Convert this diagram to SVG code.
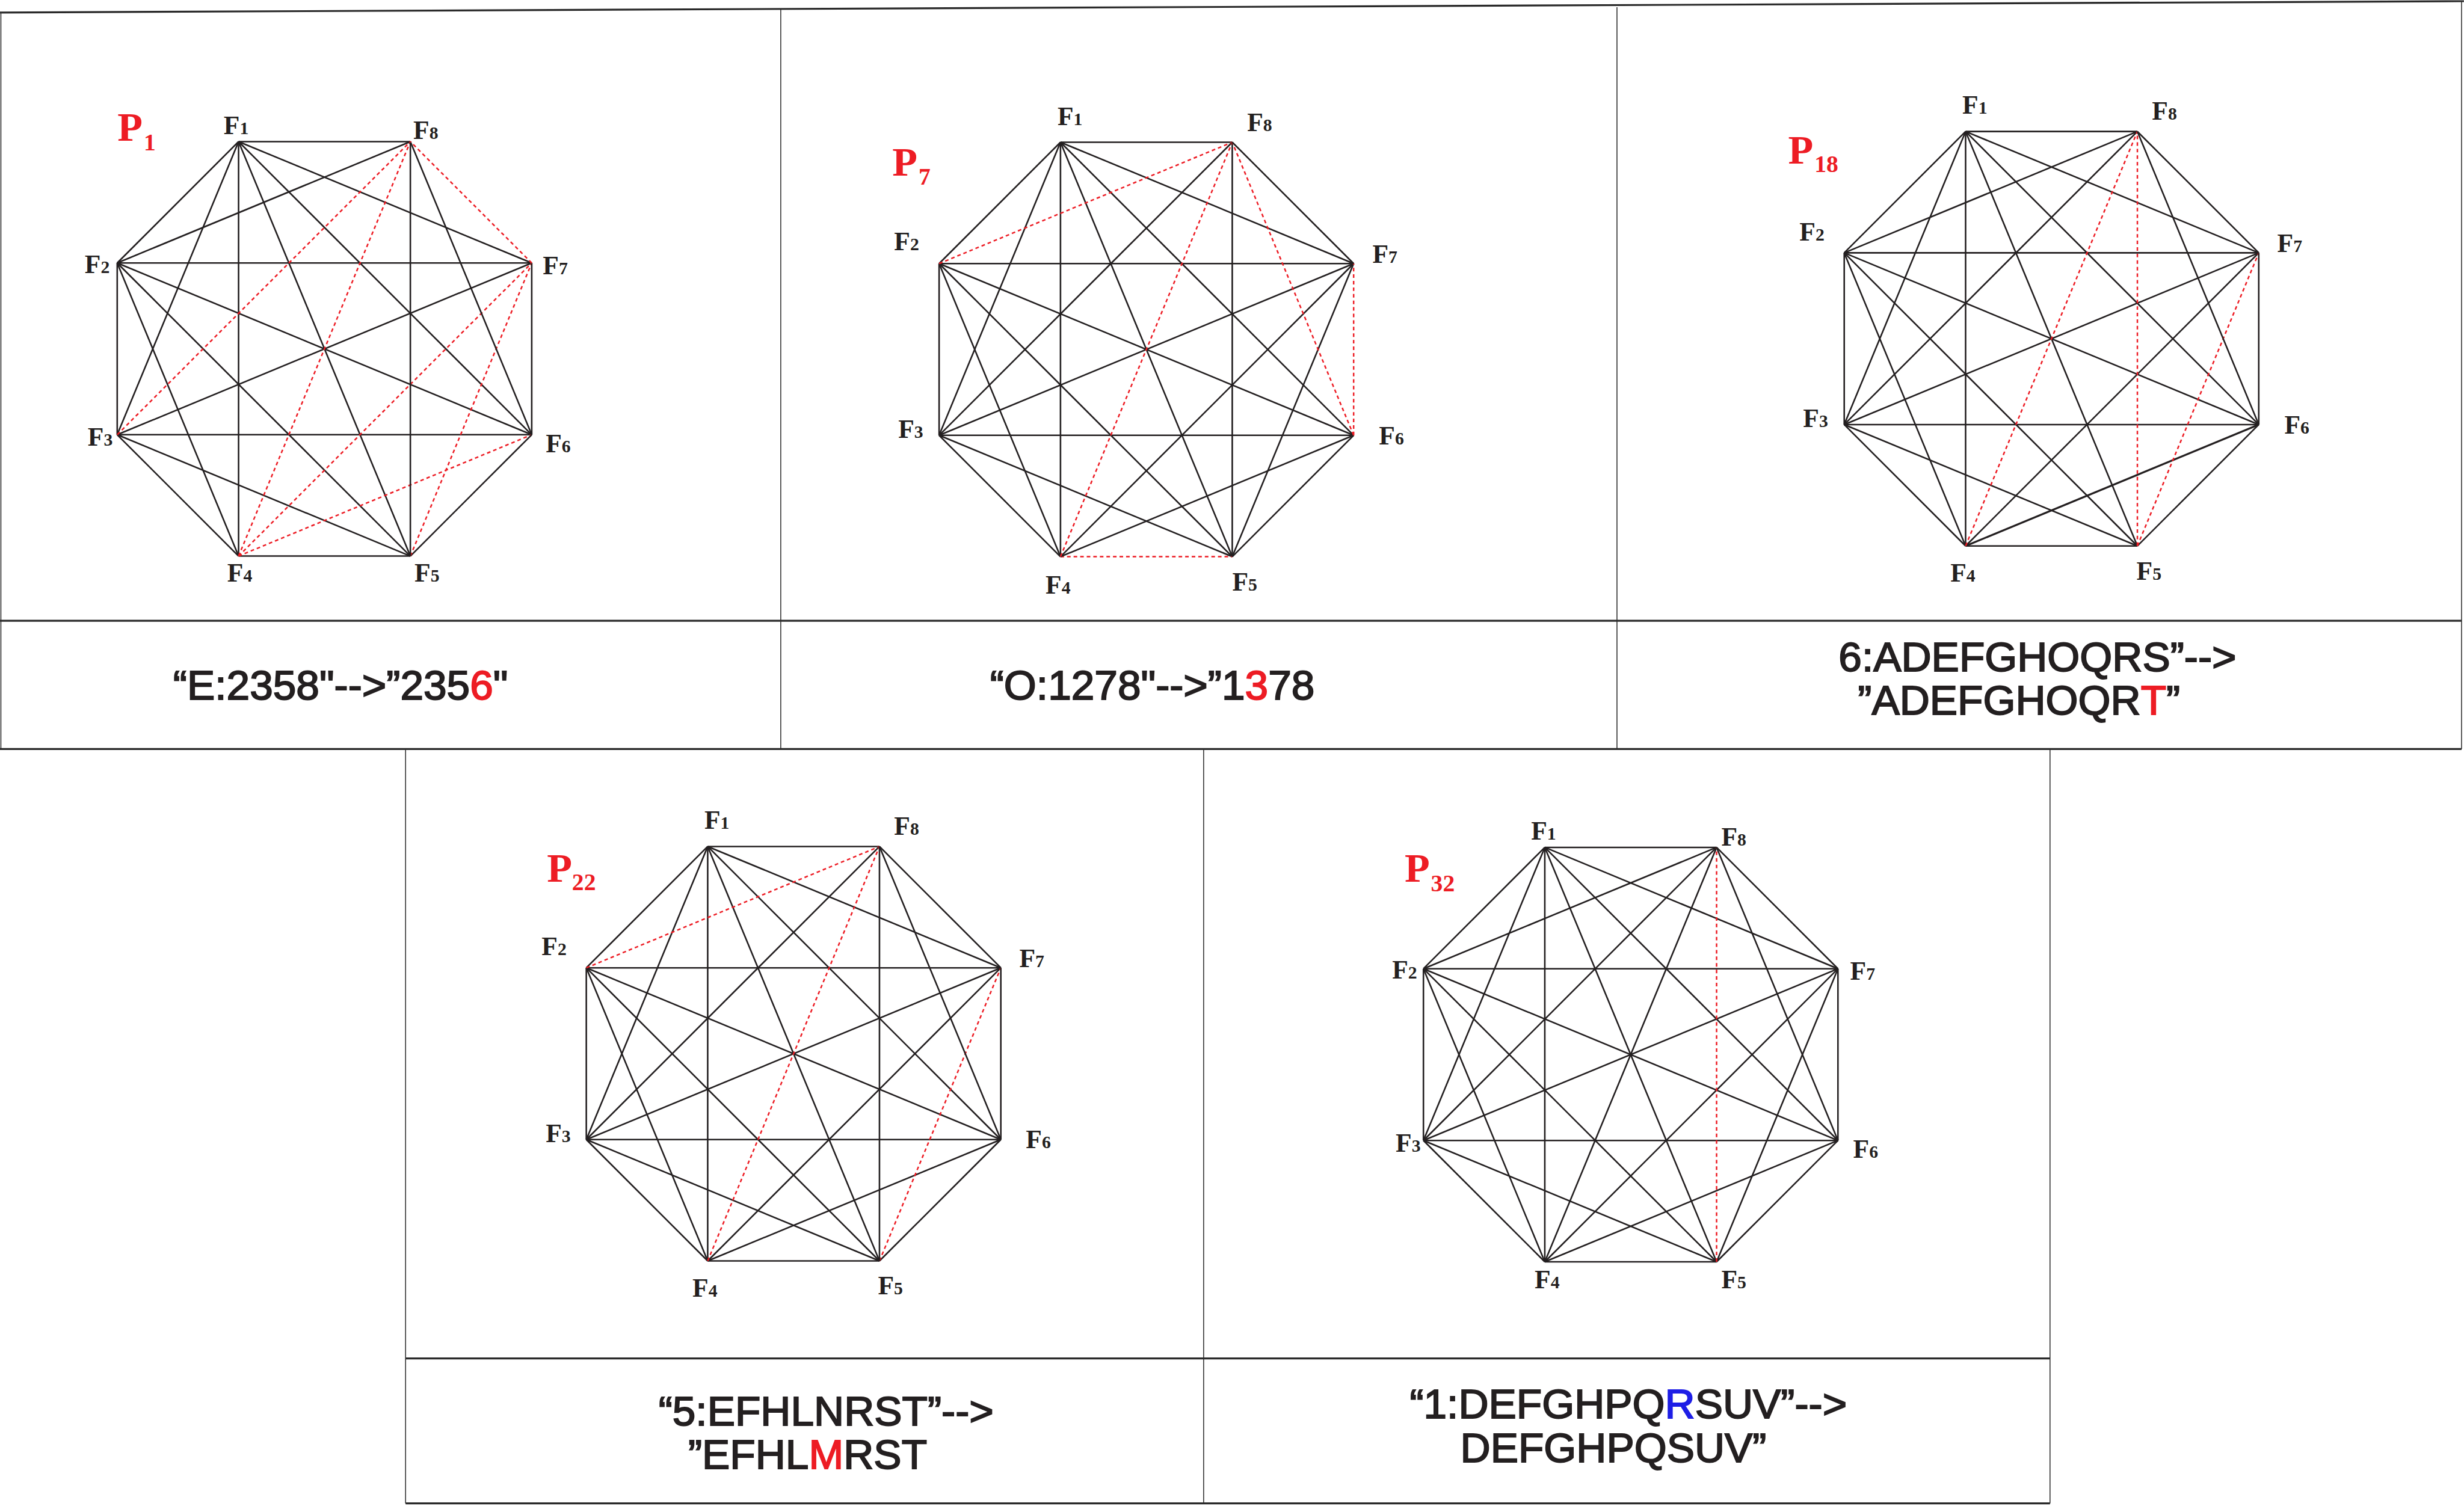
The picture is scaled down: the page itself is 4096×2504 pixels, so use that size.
<svg xmlns="http://www.w3.org/2000/svg" width="4096" height="2504" viewBox="0 0 4096 2504">
<style>
.e{stroke:#231f20;stroke-width:2.6;fill:none}
.r{stroke:#ed1c24;stroke-width:2.5;stroke-dasharray:6 5;fill:none}
.frame{stroke:#333;stroke-width:1.6;fill:none}
.thick{stroke:#2a2a2a;stroke-width:3.2;fill:none}
.fl{font-family:"Liberation Serif","Times New Roman",serif;font-weight:bold;font-size:44px;fill:#231f20}
.fl tspan{font-size:30px}
.pl{font-family:"Liberation Serif","Times New Roman",serif;font-weight:bold;font-size:69px;fill:#ed1c24}
.pl tspan{font-size:40px}
.cap{font-family:"Liberation Sans",Arial,sans-serif;font-size:70px;fill:#231f20;stroke:#231f20;stroke-width:2;text-anchor:middle}
.red{fill:#ed1c24;stroke:#ed1c24}
.blue{fill:#1e1ee6;stroke:#1e1ee6}
</style>
<rect x="0" y="0" width="4096" height="2504" fill="#fff"/>
<g transform="scale(0.9915)">
<g id="frames">
<line class="thick" x1="0" y1="21" x2="4131" y2="2"/>
<line class="frame" x1="1.5" y1="20" x2="1.5" y2="1256"/>
<line class="frame" x1="4127" y1="2" x2="4127" y2="1256"/>
<line class="frame" x1="1309" y1="16" x2="1309" y2="1256"/>
<line class="frame" x1="2711" y1="12" x2="2711" y2="1256"/>
<line class="thick" x1="0" y1="1041" x2="4127" y2="1041"/>
<line class="thick" x1="0" y1="1256" x2="4127" y2="1256"/>
<line class="frame" x1="680" y1="1256" x2="680" y2="2521"/>
<line class="frame" x1="3437" y1="1256" x2="3437" y2="2521"/>
<line class="frame" x1="2018" y1="1256" x2="2018" y2="2521"/>
<line class="thick" x1="680" y1="2278" x2="3437" y2="2278"/>
<line class="thick" x1="680" y1="2521" x2="3437" y2="2521"/>
</g>

<!-- Panel 1 -->
<g id="panel1">
<g id="p1-edges" transform="translate(544,585)">
<line class="e" x1="-144" y1="-347.5" x2="-347.5" y2="-144"/>
<line class="e" x1="-144" y1="-347.5" x2="-347.5" y2="144"/>
<line class="e" x1="-144" y1="-347.5" x2="-144" y2="347.5"/>
<line class="e" x1="-144" y1="-347.5" x2="144" y2="347.5"/>
<line class="e" x1="-144" y1="-347.5" x2="347.5" y2="144"/>
<line class="e" x1="-144" y1="-347.5" x2="347.5" y2="-144"/>
<line class="e" x1="-144" y1="-347.5" x2="144" y2="-347.5"/>
<line class="e" x1="-347.5" y1="-144" x2="-347.5" y2="144"/>
<line class="e" x1="-347.5" y1="-144" x2="-144" y2="347.5"/>
<line class="e" x1="-347.5" y1="-144" x2="144" y2="347.5"/>
<line class="e" x1="-347.5" y1="-144" x2="347.5" y2="144"/>
<line class="e" x1="-347.5" y1="-144" x2="347.5" y2="-144"/>
<line class="e" x1="-347.5" y1="-144" x2="144" y2="-347.5"/>
<line class="e" x1="-347.5" y1="144" x2="-144" y2="347.5"/>
<line class="e" x1="-347.5" y1="144" x2="144" y2="347.5"/>
<line class="e" x1="-347.5" y1="144" x2="347.5" y2="144"/>
<line class="e" x1="-347.5" y1="144" x2="347.5" y2="-144"/>
<line class="r" x1="-347.5" y1="144" x2="144" y2="-347.5"/>
<line class="e" x1="-144" y1="347.5" x2="144" y2="347.5"/>
<line class="r" x1="-144" y1="347.5" x2="347.5" y2="144"/>
<line class="r" x1="-144" y1="347.5" x2="347.5" y2="-144"/>
<line class="r" x1="-144" y1="347.5" x2="144" y2="-347.5"/>
<line class="e" x1="144" y1="347.5" x2="347.5" y2="144"/>
<line class="r" x1="144" y1="347.5" x2="347.5" y2="-144"/>
<line class="e" x1="144" y1="347.5" x2="144" y2="-347.5"/>
<line class="e" x1="347.5" y1="144" x2="347.5" y2="-144"/>
<line class="e" x1="347.5" y1="144" x2="144" y2="-347.5"/>
<line class="r" x1="347.5" y1="-144" x2="144" y2="-347.5"/>
</g>
<text class="pl" x="197" y="236">P<tspan x="241" y="252">1</tspan></text>
<g id="p1-F1"><text class="fl" x="375" y="225">F<tspan>1</tspan></text></g>
<g id="p1-F8"><text class="fl" x="693" y="233">F<tspan>8</tspan></text></g>
<g id="p1-F7"><text class="fl" x="910" y="460">F<tspan>7</tspan></text></g>
<g id="p1-F6"><text class="fl" x="915" y="758">F<tspan>6</tspan></text></g>
<g id="p1-F5"><text class="fl" x="695" y="975">F<tspan>5</tspan></text></g>
<g id="p1-F4"><text class="fl" x="381" y="975">F<tspan>4</tspan></text></g>
<g id="p1-F3"><text class="fl" x="147" y="747">F<tspan>3</tspan></text></g>
<g id="p1-F2"><text class="fl" x="142" y="458">F<tspan>2</tspan></text></g>
<g id="p1-caption"><text class="cap" x="571" y="1173">“E:2358"--&gt;”235<tspan class="red">6</tspan>"</text></g>
</g>

<!-- Panel 2 -->
<g id="panel2">
<g id="p2-edges" transform="translate(1922,586)">
<line class="e" x1="-144" y1="-347.5" x2="-347.5" y2="-144"/>
<line class="e" x1="-144" y1="-347.5" x2="-347.5" y2="144"/>
<line class="e" x1="-144" y1="-347.5" x2="-144" y2="347.5"/>
<line class="e" x1="-144" y1="-347.5" x2="144" y2="347.5"/>
<line class="e" x1="-144" y1="-347.5" x2="347.5" y2="144"/>
<line class="e" x1="-144" y1="-347.5" x2="347.5" y2="-144"/>
<line class="e" x1="-144" y1="-347.5" x2="144" y2="-347.5"/>
<line class="e" x1="-347.5" y1="-144" x2="-347.5" y2="144"/>
<line class="e" x1="-347.5" y1="-144" x2="-144" y2="347.5"/>
<line class="e" x1="-347.5" y1="-144" x2="144" y2="347.5"/>
<line class="e" x1="-347.5" y1="-144" x2="347.5" y2="144"/>
<line class="e" x1="-347.5" y1="-144" x2="347.5" y2="-144"/>
<line class="r" x1="-347.5" y1="-144" x2="144" y2="-347.5"/>
<line class="e" x1="-347.5" y1="144" x2="-144" y2="347.5"/>
<line class="e" x1="-347.5" y1="144" x2="144" y2="347.5"/>
<line class="e" x1="-347.5" y1="144" x2="347.5" y2="144"/>
<line class="e" x1="-347.5" y1="144" x2="347.5" y2="-144"/>
<line class="e" x1="-347.5" y1="144" x2="144" y2="-347.5"/>
<line class="r" x1="-144" y1="347.5" x2="144" y2="347.5"/>
<line class="e" x1="-144" y1="347.5" x2="347.5" y2="144"/>
<line class="e" x1="-144" y1="347.5" x2="347.5" y2="-144"/>
<line class="r" x1="-144" y1="347.5" x2="144" y2="-347.5"/>
<line class="e" x1="144" y1="347.5" x2="347.5" y2="144"/>
<line class="e" x1="144" y1="347.5" x2="347.5" y2="-144"/>
<line class="e" x1="144" y1="347.5" x2="144" y2="-347.5"/>
<line class="r" x1="347.5" y1="144" x2="347.5" y2="-144"/>
<line class="r" x1="347.5" y1="144" x2="144" y2="-347.5"/>
<line class="e" x1="347.5" y1="-144" x2="144" y2="-347.5"/>
</g>
<text class="pl" x="1496" y="295">P<tspan x="1540" y="310">7</tspan></text>
<g id="p2-F1"><text class="fl" x="1773" y="210">F<tspan>1</tspan></text></g>
<g id="p2-F8"><text class="fl" x="2091" y="220">F<tspan>8</tspan></text></g>
<g id="p2-F7"><text class="fl" x="2301" y="441">F<tspan>7</tspan></text></g>
<g id="p2-F6"><text class="fl" x="2312" y="745">F<tspan>6</tspan></text></g>
<g id="p2-F5"><text class="fl" x="2066" y="990">F<tspan>5</tspan></text></g>
<g id="p2-F4"><text class="fl" x="1753" y="995">F<tspan>4</tspan></text></g>
<g id="p2-F3"><text class="fl" x="1506" y="734">F<tspan>3</tspan></text></g>
<g id="p2-F2"><text class="fl" x="1499" y="420">F<tspan>2</tspan></text></g>
<g id="p2-caption"><text class="cap" x="1932" y="1173">“O:1278"--&gt;”1<tspan class="red">3</tspan>78</text></g>
</g>

<!-- Panel 3 -->
<g id="panel3">
<g id="p3-edges" transform="translate(3439.5,568)">
<line class="e" x1="-144" y1="-347.5" x2="-347.5" y2="-144"/>
<line class="e" x1="-144" y1="-347.5" x2="-347.5" y2="144"/>
<line class="e" x1="-144" y1="-347.5" x2="-144" y2="347.5"/>
<line class="e" x1="-144" y1="-347.5" x2="144" y2="347.5"/>
<line class="e" x1="-144" y1="-347.5" x2="347.5" y2="144"/>
<line class="e" x1="-144" y1="-347.5" x2="347.5" y2="-144"/>
<line class="e" x1="-144" y1="-347.5" x2="144" y2="-347.5"/>
<line class="e" x1="-347.5" y1="-144" x2="-347.5" y2="144"/>
<line class="e" x1="-347.5" y1="-144" x2="-144" y2="347.5"/>
<line class="e" x1="-347.5" y1="-144" x2="144" y2="347.5"/>
<line class="e" x1="-347.5" y1="-144" x2="347.5" y2="144"/>
<line class="e" x1="-347.5" y1="-144" x2="347.5" y2="-144"/>
<line class="e" x1="-347.5" y1="-144" x2="144" y2="-347.5"/>
<line class="e" x1="-347.5" y1="144" x2="-144" y2="347.5"/>
<line class="e" x1="-347.5" y1="144" x2="144" y2="347.5"/>
<line class="e" x1="-347.5" y1="144" x2="347.5" y2="144"/>
<line class="e" x1="-347.5" y1="144" x2="347.5" y2="-144"/>
<line class="e" x1="-347.5" y1="144" x2="144" y2="-347.5"/>
<line class="e" x1="-144" y1="347.5" x2="144" y2="347.5"/>
<line class="e" x1="-144" y1="347.5" x2="347.5" y2="144" style="stroke-width:3.2"/>
<line class="e" x1="-144" y1="347.5" x2="347.5" y2="-144"/>
<line class="r" x1="-144" y1="347.5" x2="144" y2="-347.5"/>
<line class="e" x1="144" y1="347.5" x2="347.5" y2="144"/>
<line class="r" x1="144" y1="347.5" x2="347.5" y2="-144"/>
<line class="r" x1="144" y1="347.5" x2="144" y2="-347.5"/>
<line class="e" x1="347.5" y1="144" x2="347.5" y2="-144"/>
<line class="e" x1="347.5" y1="144" x2="144" y2="-347.5"/>
<line class="e" x1="347.5" y1="-144" x2="144" y2="-347.5"/>
</g>
<text class="pl" x="2998" y="274">P<tspan x="3042" y="288">18</tspan></text>
<g id="p3-F1"><text class="fl" x="3290" y="191">F<tspan>1</tspan></text></g>
<g id="p3-F8"><text class="fl" x="3608" y="201">F<tspan>8</tspan></text></g>
<g id="p3-F7"><text class="fl" x="3818" y="423">F<tspan>7</tspan></text></g>
<g id="p3-F6"><text class="fl" x="3830" y="727">F<tspan>6</tspan></text></g>
<g id="p3-F5"><text class="fl" x="3582" y="972">F<tspan>5</tspan></text></g>
<g id="p3-F4"><text class="fl" x="3270" y="975">F<tspan>4</tspan></text></g>
<g id="p3-F3"><text class="fl" x="3023" y="716">F<tspan>3</tspan></text></g>
<g id="p3-F2"><text class="fl" x="3017" y="403">F<tspan>2</tspan></text></g>
<g id="p3-caption">
<text class="cap" x="3416" y="1126">6:ADEFGHOQRS”--&gt;</text>
<text class="cap" x="3385" y="1198">”ADEFGHOQR<tspan class="red">T</tspan>”</text>
</g>
</g>

<!-- Panel 4 -->
<g id="panel4">
<g id="p4-edges" transform="translate(1330.5,1767)">
<line class="e" x1="-144" y1="-347.5" x2="-347.5" y2="-144"/>
<line class="e" x1="-144" y1="-347.5" x2="-347.5" y2="144"/>
<line class="e" x1="-144" y1="-347.5" x2="-144" y2="347.5"/>
<line class="e" x1="-144" y1="-347.5" x2="144" y2="347.5"/>
<line class="e" x1="-144" y1="-347.5" x2="347.5" y2="144"/>
<line class="e" x1="-144" y1="-347.5" x2="347.5" y2="-144"/>
<line class="e" x1="-144" y1="-347.5" x2="144" y2="-347.5"/>
<line class="e" x1="-347.5" y1="-144" x2="-347.5" y2="144"/>
<line class="e" x1="-347.5" y1="-144" x2="-144" y2="347.5"/>
<line class="e" x1="-347.5" y1="-144" x2="144" y2="347.5"/>
<line class="e" x1="-347.5" y1="-144" x2="347.5" y2="144"/>
<line class="e" x1="-347.5" y1="-144" x2="347.5" y2="-144"/>
<line class="r" x1="-347.5" y1="-144" x2="144" y2="-347.5"/>
<line class="e" x1="-347.5" y1="144" x2="-144" y2="347.5"/>
<line class="e" x1="-347.5" y1="144" x2="144" y2="347.5"/>
<line class="e" x1="-347.5" y1="144" x2="347.5" y2="144"/>
<line class="e" x1="-347.5" y1="144" x2="347.5" y2="-144"/>
<line class="e" x1="-347.5" y1="144" x2="144" y2="-347.5"/>
<line class="e" x1="-144" y1="347.5" x2="144" y2="347.5"/>
<line class="e" x1="-144" y1="347.5" x2="347.5" y2="144"/>
<line class="e" x1="-144" y1="347.5" x2="347.5" y2="-144"/>
<line class="r" x1="-144" y1="347.5" x2="144" y2="-347.5"/>
<line class="e" x1="144" y1="347.5" x2="347.5" y2="144"/>
<line class="r" x1="144" y1="347.5" x2="347.5" y2="-144"/>
<line class="e" x1="144" y1="347.5" x2="144" y2="-347.5"/>
<line class="e" x1="347.5" y1="144" x2="347.5" y2="-144"/>
<line class="e" x1="347.5" y1="144" x2="144" y2="-347.5"/>
<line class="e" x1="347.5" y1="-144" x2="144" y2="-347.5"/>
</g>
<text class="pl" x="917" y="1479">P<tspan x="959" y="1493">22</tspan></text>
<g id="p4-F1"><text class="fl" x="1181" y="1390">F<tspan>1</tspan></text></g>
<g id="p4-F8"><text class="fl" x="1499" y="1400">F<tspan>8</tspan></text></g>
<g id="p4-F7"><text class="fl" x="1709" y="1622">F<tspan>7</tspan></text></g>
<g id="p4-F6"><text class="fl" x="1720" y="1925">F<tspan>6</tspan></text></g>
<g id="p4-F5"><text class="fl" x="1472" y="2170">F<tspan>5</tspan></text></g>
<g id="p4-F4"><text class="fl" x="1161" y="2175">F<tspan>4</tspan></text></g>
<g id="p4-F3"><text class="fl" x="915" y="1915">F<tspan>3</tspan></text></g>
<g id="p4-F2"><text class="fl" x="908" y="1602">F<tspan>2</tspan></text></g>
<g id="p4-caption">
<text class="cap" x="1385" y="2390">“5:EFHLNRST”--&gt;</text>
<text class="cap" x="1354" y="2463">”EFHL<tspan class="red">M</tspan>RST</text>
</g>
</g>

<!-- Panel 5 -->
<g id="panel5">
<g id="p5-edges" transform="translate(2734,1768.5)">
<line class="e" x1="-144" y1="-347.5" x2="-347.5" y2="-144"/>
<line class="e" x1="-144" y1="-347.5" x2="-347.5" y2="144"/>
<line class="e" x1="-144" y1="-347.5" x2="-144" y2="347.5"/>
<line class="e" x1="-144" y1="-347.5" x2="144" y2="347.5"/>
<line class="e" x1="-144" y1="-347.5" x2="347.5" y2="144"/>
<line class="e" x1="-144" y1="-347.5" x2="347.5" y2="-144"/>
<line class="e" x1="-144" y1="-347.5" x2="144" y2="-347.5"/>
<line class="e" x1="-347.5" y1="-144" x2="-347.5" y2="144"/>
<line class="e" x1="-347.5" y1="-144" x2="-144" y2="347.5"/>
<line class="e" x1="-347.5" y1="-144" x2="144" y2="347.5"/>
<line class="e" x1="-347.5" y1="-144" x2="347.5" y2="144"/>
<line class="e" x1="-347.5" y1="-144" x2="347.5" y2="-144"/>
<line class="e" x1="-347.5" y1="-144" x2="144" y2="-347.5"/>
<line class="e" x1="-347.5" y1="144" x2="-144" y2="347.5"/>
<line class="e" x1="-347.5" y1="144" x2="144" y2="347.5"/>
<line class="e" x1="-347.5" y1="144" x2="347.5" y2="144"/>
<line class="e" x1="-347.5" y1="144" x2="347.5" y2="-144"/>
<line class="e" x1="-347.5" y1="144" x2="144" y2="-347.5"/>
<line class="e" x1="-144" y1="347.5" x2="144" y2="347.5"/>
<line class="e" x1="-144" y1="347.5" x2="347.5" y2="144"/>
<line class="e" x1="-144" y1="347.5" x2="347.5" y2="-144"/>
<line class="e" x1="-144" y1="347.5" x2="144" y2="-347.5"/>
<line class="e" x1="144" y1="347.5" x2="347.5" y2="144"/>
<line class="e" x1="144" y1="347.5" x2="347.5" y2="-144"/>
<line class="r" x1="144" y1="347.5" x2="144" y2="-347.5"/>
<line class="e" x1="347.5" y1="144" x2="347.5" y2="-144"/>
<line class="e" x1="347.5" y1="144" x2="144" y2="-347.5"/>
<line class="e" x1="347.5" y1="-144" x2="144" y2="-347.5"/>
</g>
<text class="pl" x="2355" y="1479">P<tspan x="2399" y="1495">32</tspan></text>
<g id="p5-F1"><text class="fl" x="2567" y="1408">F<tspan>1</tspan></text></g>
<g id="p5-F8"><text class="fl" x="2886" y="1418">F<tspan>8</tspan></text></g>
<g id="p5-F7"><text class="fl" x="3102" y="1643">F<tspan>7</tspan></text></g>
<g id="p5-F6"><text class="fl" x="3107" y="1942">F<tspan>6</tspan></text></g>
<g id="p5-F5"><text class="fl" x="2886" y="2160">F<tspan>5</tspan></text></g>
<g id="p5-F4"><text class="fl" x="2573" y="2160">F<tspan>4</tspan></text></g>
<g id="p5-F3"><text class="fl" x="2340" y="1931">F<tspan>3</tspan></text></g>
<g id="p5-F2"><text class="fl" x="2334" y="1641">F<tspan>2</tspan></text></g>
<g id="p5-caption">
<text class="cap" x="2730" y="2378">“1:DEFGHPQ<tspan class="blue">R</tspan>SUV”--&gt;</text>
<text class="cap" x="2705" y="2452">DEFGHPQSUV”</text>
</g>
</g>
</g>
</svg>
